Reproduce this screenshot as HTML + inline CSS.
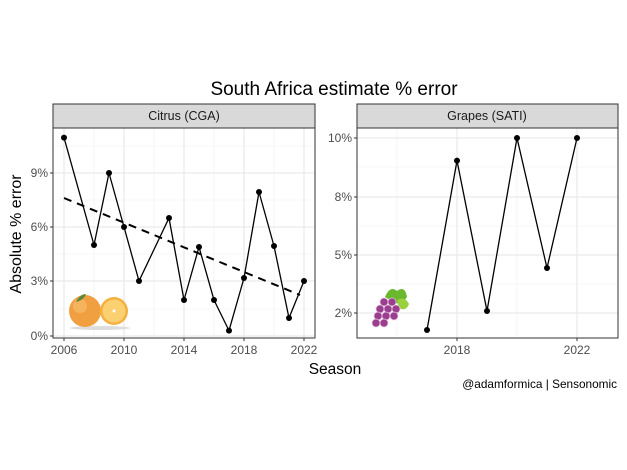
<!DOCTYPE html>
<html><head><meta charset="utf-8"><style>
body{margin:0;background:#fff;}
svg{display:block;font-family:"Liberation Sans",Arial,sans-serif;}
</style></head><body>
<svg width="627" height="470" viewBox="0 0 627 470" xmlns="http://www.w3.org/2000/svg">
<rect width="627" height="470" fill="#fff"/>
<text x="334" y="95" font-size="19" text-anchor="middle" fill="#000">South Africa estimate % error</text>
<!-- LEFT PANEL -->
<g>
<rect x="53" y="128" width="262" height="210" fill="#fff"/>
<g stroke="#f0f0f0" stroke-width="0.6">
<line x1="53" x2="315" y1="309" y2="309"/><line x1="53" x2="315" y1="254" y2="254"/><line x1="53" x2="315" y1="200" y2="200"/><line x1="53" x2="315" y1="146" y2="146"/>
<line x1="94" x2="94" y1="128" y2="338"/><line x1="154" x2="154" y1="128" y2="338"/><line x1="214" x2="214" y1="128" y2="338"/><line x1="274" x2="274" y1="128" y2="338"/>
</g>
<g stroke="#e6e6e6" stroke-width="1.1">
<line x1="53" x2="315" y1="336" y2="336"/><line x1="53" x2="315" y1="281" y2="281"/><line x1="53" x2="315" y1="227" y2="227"/><line x1="53" x2="315" y1="173" y2="173"/>
<line x1="64" x2="64" y1="128" y2="338"/><line x1="124" x2="124" y1="128" y2="338"/><line x1="184" x2="184" y1="128" y2="338"/><line x1="244" x2="244" y1="128" y2="338"/><line x1="304" x2="304" y1="128" y2="338"/>
</g>
<ellipse cx="100" cy="328" rx="30" ry="2" fill="#ddd"/>
<circle cx="85" cy="311" r="16" fill="#f0a040"/>
<circle cx="80" cy="306" r="7" fill="#f7c070" opacity="0.6"/>
<path d="M76 302 q4 -8 10 -8 q-2 6 -10 8z" fill="#5a8a3a"/>
<circle cx="114" cy="311" r="14" fill="#f4b040"/>
<circle cx="114" cy="311" r="11.5" fill="#fbd070"/>
<circle cx="114" cy="311" r="1.5" fill="#fff"/>
<polyline fill="none" stroke="#000" stroke-width="1.3" points="64,137.6 94,245 109,173 124,227 139,281 169,218 184,300 199,247 214,300 229,330.6 244,278 259,192 274,246 289,318 304,281"/>
<g fill="#000">
<circle cx="64" cy="137.6" r="3"/><circle cx="94" cy="245" r="3"/><circle cx="109" cy="173" r="3"/><circle cx="124" cy="227" r="3"/><circle cx="139" cy="281" r="3"/><circle cx="169" cy="218" r="3"/><circle cx="184" cy="300" r="3"/><circle cx="199" cy="247" r="3"/><circle cx="214" cy="300" r="3"/><circle cx="229" cy="330.6" r="3"/><circle cx="244" cy="278" r="3"/><circle cx="259" cy="192" r="3"/><circle cx="274" cy="246" r="3"/><circle cx="289" cy="318" r="3"/><circle cx="304" cy="281" r="3"/>
</g>
<line x1="64" y1="198" x2="300" y2="295" stroke="#000" stroke-width="2" stroke-dasharray="8,6"/>
<rect x="53" y="128" width="262" height="210" fill="none" stroke="#333" stroke-width="1"/>
<rect x="53" y="104" width="262" height="24" fill="#d9d9d9" stroke="#333" stroke-width="1"/>
<text x="184" y="120" font-size="12.5" text-anchor="middle" fill="#1a1a1a">Citrus (CGA)</text>
<g font-size="12" fill="#4d4d4d" text-anchor="end">
<text x="48" y="340">0%</text><text x="48" y="285">3%</text><text x="48" y="231">6%</text><text x="48" y="177">9%</text>
</g>
<g stroke="#333" stroke-width="1">
<line x1="50" x2="53" y1="336" y2="336"/><line x1="50" x2="53" y1="281" y2="281"/><line x1="50" x2="53" y1="227" y2="227"/><line x1="50" x2="53" y1="173" y2="173"/>
<line x1="64" x2="64" y1="338" y2="341"/><line x1="124" x2="124" y1="338" y2="341"/><line x1="184" x2="184" y1="338" y2="341"/><line x1="244" x2="244" y1="338" y2="341"/><line x1="304" x2="304" y1="338" y2="341"/>
</g>
<g font-size="12" fill="#4d4d4d" text-anchor="middle">
<text x="64" y="354">2006</text><text x="124" y="354">2010</text><text x="184" y="354">2014</text><text x="244" y="354">2018</text><text x="304" y="354">2022</text>
</g>
</g>
<!-- RIGHT PANEL -->
<g>
<g stroke="#f0f0f0" stroke-width="0.6">
<line x1="357" x2="618" y1="167" y2="167"/><line x1="357" x2="618" y1="226" y2="226"/><line x1="357" x2="618" y1="284" y2="284"/>
<line x1="397" x2="397" y1="128" y2="338"/><line x1="517" x2="517" y1="128" y2="338"/>
</g>
<g stroke="#e6e6e6" stroke-width="1.1">
<line x1="357" x2="618" y1="138" y2="138"/><line x1="357" x2="618" y1="197" y2="197"/><line x1="357" x2="618" y1="255" y2="255"/><line x1="357" x2="618" y1="313" y2="313"/>
<line x1="457" x2="457" y1="128" y2="338"/><line x1="577" x2="577" y1="128" y2="338"/>
</g>
<g>
<path d="M385 297 q5 -12 12 -6 q8 -6 10 6 q-5 8 -12 6z" fill="#6ab82e"/>
<path d="M397 300 q8 -4 12 4 q-3 8 -10 4z" fill="#9ad040"/>
<g fill="#9a3f8e" stroke="#e8c8e4" stroke-width="0.7">
<circle cx="384" cy="302" r="4"/><circle cx="392" cy="302" r="4"/>
<circle cx="380" cy="309" r="4"/><circle cx="388" cy="309" r="4"/><circle cx="396" cy="309" r="4"/>
<circle cx="378" cy="316" r="4"/><circle cx="386" cy="316" r="4"/><circle cx="394" cy="316" r="4"/>
<circle cx="376" cy="323" r="4"/><circle cx="384" cy="323" r="4"/>
</g>
</g>
<polyline fill="none" stroke="#000" stroke-width="1.3" points="427,330 457,160.6 487,311 517,138 547,268 577,138"/>
<g fill="#000">
<circle cx="427" cy="330" r="3"/><circle cx="457" cy="160.6" r="3"/><circle cx="487" cy="311" r="3"/><circle cx="517" cy="138" r="3"/><circle cx="547" cy="268" r="3"/><circle cx="577" cy="138" r="3"/>
</g>
<rect x="357" y="128" width="261" height="210" fill="none" stroke="#333" stroke-width="1"/>
<rect x="357" y="104" width="261" height="24" fill="#d9d9d9" stroke="#333" stroke-width="1"/>
<text x="487" y="120" font-size="12.5" text-anchor="middle" fill="#1a1a1a">Grapes (SATI)</text>
<g font-size="12" fill="#4d4d4d" text-anchor="end">
<text x="352" y="142">10%</text><text x="352" y="201">8%</text><text x="352" y="259">5%</text><text x="352" y="317">2%</text>
</g>
<g stroke="#333" stroke-width="1">
<line x1="354" x2="357" y1="138" y2="138"/><line x1="354" x2="357" y1="197" y2="197"/><line x1="354" x2="357" y1="255" y2="255"/><line x1="354" x2="357" y1="313" y2="313"/>
<line x1="457" x2="457" y1="338" y2="341"/><line x1="577" x2="577" y1="338" y2="341"/>
</g>
<g font-size="12" fill="#4d4d4d" text-anchor="middle">
<text x="457" y="354">2018</text><text x="577" y="354">2022</text>
</g>
</g>
<text x="335" y="374" font-size="15.5" text-anchor="middle" fill="#000">Season</text>
<text transform="translate(21,234) rotate(-90)" font-size="16" text-anchor="middle" fill="#000">Absolute % error</text>
<text x="617" y="388" font-size="11.8" text-anchor="end" fill="#000">@adamformica | Sensonomic</text>
</svg>
</body></html>
